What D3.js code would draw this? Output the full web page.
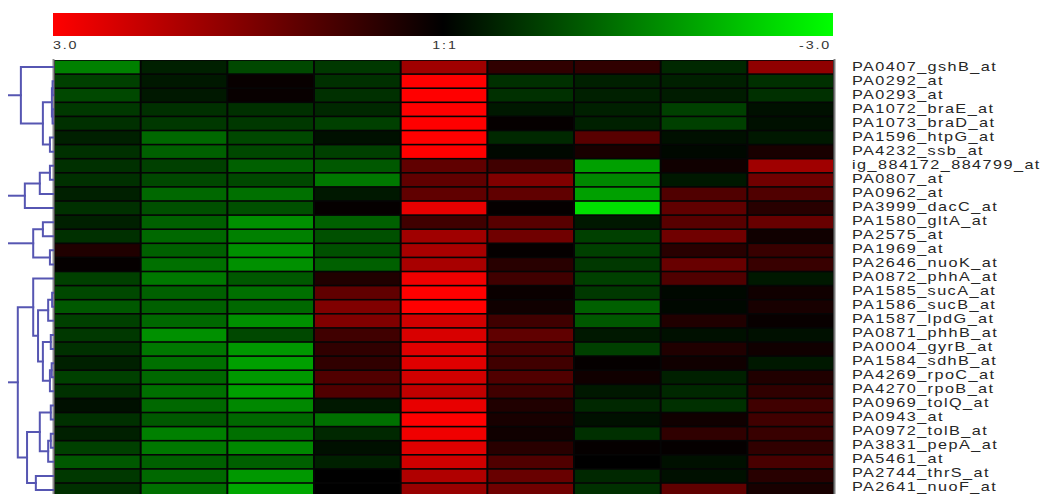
<!DOCTYPE html>
<html><head><meta charset="utf-8">
<script src="https://cdn.jsdelivr.net/npm/d3@7"></script>
<style>html,body{margin:0;padding:0;background:#fff;overflow:hidden}</style>
</head><body><svg id="chart" width="1044" height="494"></svg>
<script>
const rowLabels = ["PA0407_gshB_at","PA0292_at","PA0293_at","PA1072_braE_at","PA1073_braD_at","PA1596_htpG_at","PA4232_ssb_at","ig_884172_884799_at","PA0807_at","PA0962_at","PA3999_dacC_at","PA1580_gltA_at","PA2575_at","PA1969_at","PA2646_nuoK_at","PA0872_phhA_at","PA1585_sucA_at","PA1586_sucB_at","PA1587_lpdG_at","PA0871_phhB_at","PA0004_gyrB_at","PA1584_sdhB_at","PA4269_rpoC_at","PA4270_rpoB_at","PA0969_tolQ_at","PA0943_at","PA0972_tolB_at","PA3831_pepA_at","PA5461_at","PA2744_thrS_at","PA2641_nuoF_at"];
const columns = [1,2,3,4,5,6,7,8,9];
const expression = [
 [-1.51,-0.38,-0.85,-0.66,1.88,0.56,0.56,-0.47,1.69],
 [-0.75,-0.28,0.09,-0.56,3.0,-0.56,-0.38,-0.38,-0.56],
 [-0.85,-0.28,0.09,-0.56,3.0,-0.56,-0.38,-0.33,-0.56],
 [-0.66,-0.56,-0.56,-0.47,3.0,-0.28,-0.38,-0.75,-0.19],
 [-0.56,-0.66,-0.66,-0.75,3.0,0.06,-0.38,-0.75,-0.19],
 [-0.38,-1.22,-0.85,-0.19,3.0,-0.47,1.04,-0.19,-0.28],
 [-0.56,-1.13,-0.85,-0.75,3.0,-0.09,0.28,-0.09,0.28],
 [-0.56,-0.75,-1.13,-1.04,1.13,0.75,-1.88,0.19,1.88],
 [-0.56,-0.85,-0.85,-1.41,1.13,1.51,-1.6,-0.28,1.32],
 [-0.38,-1.22,-1.32,-0.28,1.13,1.13,-1.88,0.94,0.94],
 [-0.56,-0.94,-0.94,0.06,2.73,0.06,-2.64,1.13,0.47],
 [-0.38,-1.13,-1.69,-1.13,0.75,1.04,-0.28,1.04,1.22],
 [-0.56,-1.22,-1.51,-0.94,1.88,1.32,-0.75,1.32,0.19],
 [0.38,-1.13,-1.69,-0.94,1.98,0.06,-0.75,0.47,0.66],
 [0.06,-1.32,-1.69,-1.13,1.98,0.47,-0.66,1.22,0.66],
 [-0.75,-1.41,-1.04,0.38,2.82,0.75,-0.75,0.94,-0.28],
 [-0.85,-1.13,-1.32,1.13,3.0,0.12,-0.66,-0.09,0.19],
 [-1.04,-1.13,-1.22,1.51,3.0,0.19,-1.13,-0.09,0.28],
 [-0.75,-1.22,-1.69,1.51,2.45,0.75,-1.04,0.38,0.09],
 [-0.66,-1.69,-0.85,0.75,2.54,1.13,-0.28,-0.19,-0.19],
 [-0.56,-1.41,-1.79,0.56,2.64,0.85,-0.75,0.38,0.19],
 [-0.38,-1.32,-1.88,0.56,2.64,0.75,0.06,0.19,-0.28],
 [-0.75,-1.22,-1.79,0.94,2.45,0.94,0.19,-0.38,0.38],
 [-0.56,-1.32,-1.88,0.94,2.26,0.75,-0.28,-0.47,0.56],
 [-0.19,-1.22,-1.6,-0.28,2.73,0.38,-0.47,-0.56,0.75],
 [-0.56,-1.04,-1.22,-1.32,3.0,0.28,-0.19,0.19,0.75],
 [-0.38,-1.51,-1.32,-0.47,2.82,0.19,-0.56,0.56,0.66],
 [-0.75,-1.41,-1.6,-0.19,2.64,0.47,0.06,0.06,0.56],
 [-1.04,-1.13,-1.13,-0.38,2.45,0.94,0.0,-0.19,0.85],
 [-0.66,-1.22,-1.79,0.0,2.07,1.22,-0.47,-0.19,0.47],
 [-0.56,-1.32,-1.98,0.0,1.79,1.32,-0.56,1.13,0.28]
];
const legendValues = [3, 0, -3];
const legendLabels = ["3.0", "1:1", "-3.0"];
// dendrogram merges: [childA, childB, height]; numbers = row index, strings = earlier merge id
const merges = [
 [1,2,0.01],[3,4,0.01],["m0","m1",0.025],[5,6,0.07],["m2","m3",0.23],[0,"m4",0.73],
 [7,8,0.07],["m6",9,0.3],["m7",10,0.64],
 [11,12,0.23],[13,14,0.07],["m9","m10",0.45],
 [16,17,0.02],["m12",18,0.11],[19,20,0.05],[21,22,0.03],["m15",23,0.07],["m14","m16",0.23],
 ["m13","m17",0.34],[15,"m18",0.45],
 [24,25,0.05],[26,27,0.05],["m21",28,0.11],["m20","m22",0.3],[29,30,0.39],["m23","m24",0.59],
 ["m19","m25",0.8]
];
const rootNodes = ["m5","m8","m11","m26"];

const svg = d3.select("#chart");
svg.append("rect").attr("width",1044).attr("height",494).attr("fill","#fff");
const color = d3.scaleLinear().domain([-3,0,3]).range(["#00ff00","#000000","#ff0000"]).clamp(true);
const x = d3.scaleBand().domain(columns).range([54,834]);
const y = d3.scaleBand().domain(d3.range(rowLabels.length)).range([60, 60 + 14.1*rowLabels.length]);
const yLabel = d3.scaleLinear().domain([0, rowLabels.length-1]).range([70.5, 490.5]);

// legend
const lx = d3.scaleLinear().domain([3,-3]).range([53,833]);
const defs = svg.append("defs");
const grad = defs.append("linearGradient").attr("id","lg").attr("x1","0%").attr("x2","100%");
d3.range(3,-3.001,-0.5).forEach(v=>{
  grad.append("stop").attr("offset", ((lx(v)-53)/780*100)+"%").attr("stop-color", color(v));
});
svg.append("rect").attr("x",lx(3)).attr("y",13).attr("width",lx(-3)-lx(3)).attr("height",23).attr("fill","url(#lg)");
svg.selectAll("text.leg").data(legendValues).join("text").attr("class","leg")
  .attr("transform",(d,i)=>`translate(${lx(d)+[0,2,-2][i]},48.5) scale(1.3,1)`)
  .attr("text-anchor",(d,i)=>["start","middle","end"][i])
  .attr("font-family","Liberation Sans, Arial, sans-serif").attr("font-size",11)
  .attr("letter-spacing",1.4).attr("fill","#333")
  .text((d,i)=>legendLabels[i]);

// heatmap
const hm = svg.append("g");
hm.append("rect").attr("x",54).attr("y",60).attr("width",780).attr("height",y.range()[1]-60).attr("fill","#050505");
expression.forEach((row,ri)=>{
  hm.selectAll(null).data(row).join("rect")
    .attr("x",(d,ci)=>x(columns[ci])+1).attr("y",y(ri)+0.8)
    .attr("width",x.bandwidth()-2).attr("height",y.bandwidth()-1.6)
    .attr("fill",d=>color(d));
});
svg.append("rect").attr("x",52.5).attr("y",59).attr("width",2).attr("height",440).attr("fill","#8c8c8c");
svg.append("rect").attr("x",833.5).attr("y",59).attr("width",2).attr("height",440).attr("fill","#7a7a7a");

// labels
svg.selectAll("text.row").data(rowLabels).join("text").attr("class","row")
  .attr("transform",(d,i)=>`translate(852,${yLabel(i)}) scale(1.3,1)`)
  .attr("font-family","Liberation Sans, Arial, sans-serif").attr("font-size",12.5)
  .attr("letter-spacing",1.1).attr("fill","#262626")
  .text(d=>d);

// dendrogram
const dx = d3.scaleLinear().domain([0,1]).range([53,9]);
const pos = {};
function getPos(c){ return typeof c === "number" ? {x:dx(0), y:y(c)+y.bandwidth()/2} : pos[c]; }
const dg = svg.append("g").attr("stroke","#5656b2").attr("stroke-width",2).attr("fill","none").attr("stroke-linecap","square");
merges.forEach((m,k)=>{
  const a = getPos(m[0]), b = getPos(m[1]);
  const nx = dx(m[2]);
  pos["m"+k] = {x:nx, y:(a.y+b.y)/2};
  dg.append("path").attr("d", d3.line()([[a.x,a.y],[nx,a.y],[nx,b.y],[b.x,b.y]]));
});
rootNodes.forEach(r=>{
  const p = pos[r];
  dg.append("path").attr("d", d3.line()([[p.x,p.y],[dx(1),p.y]]));
});
</script></body></html>
